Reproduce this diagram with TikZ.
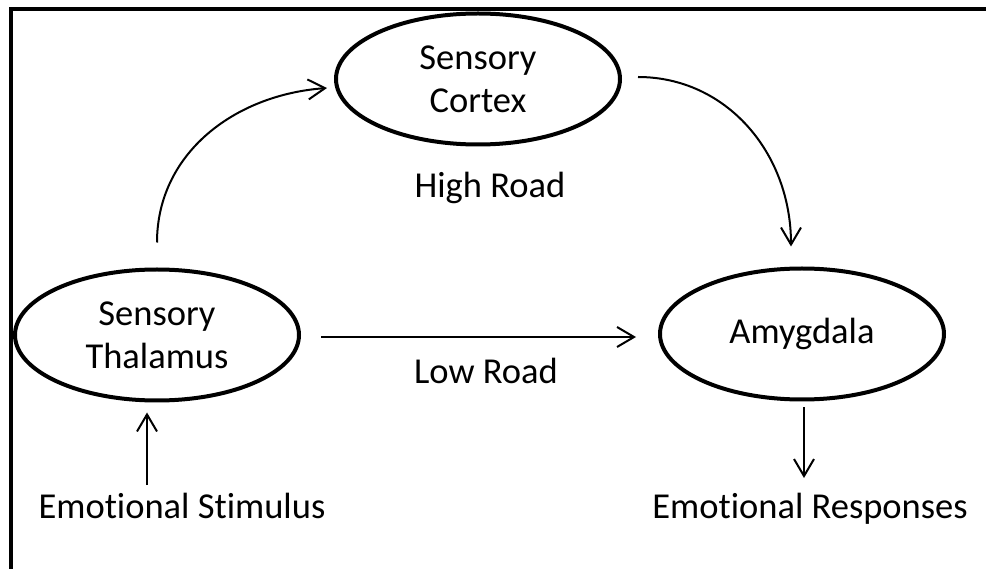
\documentclass[tikz,border=0pt]{standalone}
\usepackage{fontspec}
\setmainfont{Carlito}[Ligatures={NoCommon,NoRare}]
\usetikzlibrary{arrows.meta, positioning, shapes.geometric}

\tikzset{
  region/.style={draw, ellipse, line width=4pt, minimum width=284pt,
    minimum height=131pt, inner sep=0pt, align=center},
  road/.style={line width=2pt, -{Straight Barb[length=17pt,width=20pt]}},
  lbl/.style={anchor=base, inner sep=0pt}
}

\begin{document}
\begin{tikzpicture}[x=1pt, y=-1pt, font=\fontsize{36.5}{43}\selectfont]
    \useasboundingbox (0,0) rectangle (986,569);
  % Frame
    \draw[line width=3.5pt] (11,569) -- (11,9) -- (986,9);

  % Regions
    \node[region] (cortex) at (478,79) {Sensory\\Cortex};
    \node[region] (thalamus) at (157,335) {Sensory\\Thalamus};
    \node[region] (amygdala) at (802,334) {Amygdala};

  % Labels
    \node[lbl] (highroad) at (490,198) {High Road};
    \node[lbl] (lowroad) at (486,384) {Low Road};
    \node[lbl] (stimulus) at (182,518) {Emotional Stimulus};
    \node[lbl] (responses) at (810,518) {Emotional Responses};

  % High road
    \draw[road] ([yshift=25pt]thalamus.north)
        .. controls +(0,-88) and +(-94,7) .. ([shift={(-7pt,-9pt)}]cortex.west);
    \draw[road] ([shift={(16pt,2pt)}]cortex.east)
        .. controls +(88,0) and +(0,-94) .. ([shift={(-11pt,20pt)}]amygdala.north);

  % Low road
    \draw[road] ([shift={(20pt,-2pt)}]thalamus.east) -- ([shift={(-22pt,-3pt)}]amygdala.west);

  % In and out
    \draw[road] ([shift={(-35pt,33pt)}]stimulus.base) -- ([shift={(-10pt,-10pt)}]thalamus.south);
    \draw[road] ([shift={(2pt,-6pt)}]amygdala.south) -- ([shift={(-6pt,40pt)}]responses.base);
\end{tikzpicture}
\end{document}
